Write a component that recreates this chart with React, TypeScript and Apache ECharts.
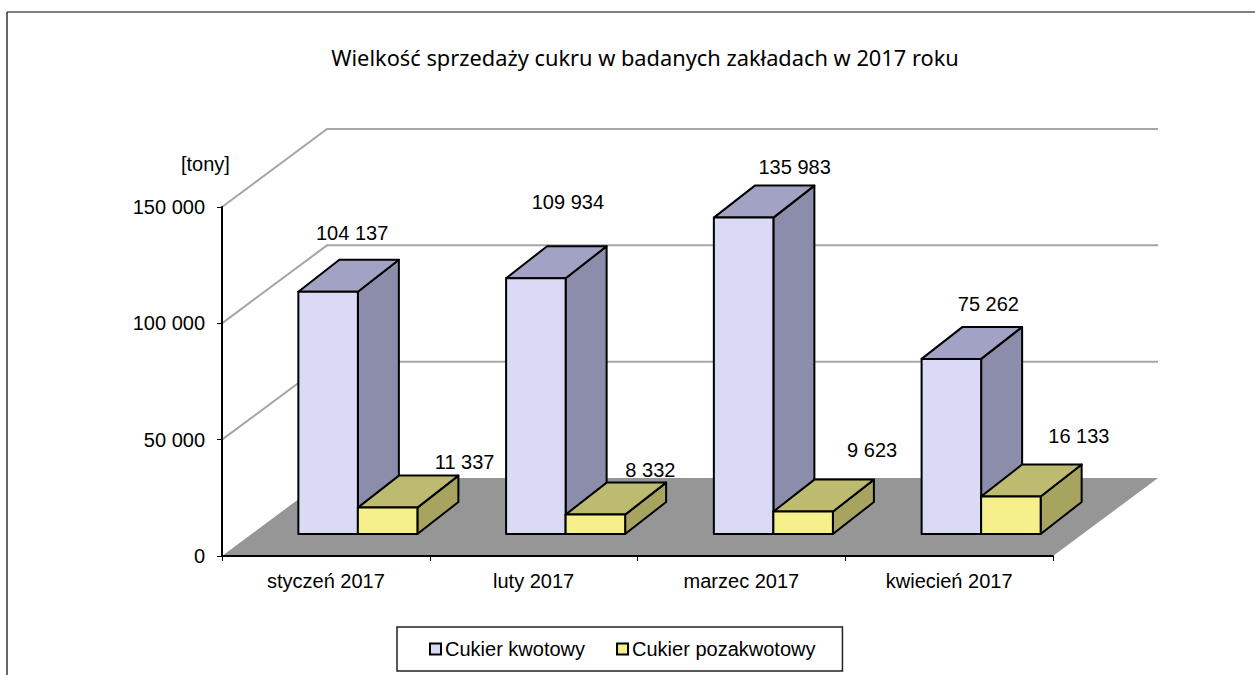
import React, { useEffect, useRef } from "react";
import * as echarts from "echarts";

const categories = ["styczeń 2017", "luty 2017", "marzec 2017", "kwiecień 2017"];
const quotaValues = [104137, 109934, 135983, 75262];
const extraValues = [11337, 8332, 9623, 16133];
const gridValues = [50000, 100000, 150000];
const quotaName = "Cukier kwotowy";
const extraName = "Cukier pozakwotowy";
const titleText = "Wielkość sprzedaży cukru w badanych zakładach w 2017 roku";
const unitText = "[tony]";

// label placement relative to each bar's top front centre
const quotaLabelOffsets = [[24, -59], [32, -76], [51, -51], [37, -55]];
const extraLabelOffsets = [[77, -46], [55, -45], [69, -62], [68, -60]];

const fmt = (v: number) => String(v).replace(/\B(?=(\d{3})+$)/g, " ");
const SANS = "'Liberation Sans', Arial, sans-serif";
const FONT_SIZE = 20;

const WALL_DX = 105;
const WALL_DY = 78;
const BAR_WIDTH = 0.2865;
const SHIFT_X = 32;
const SHIFT_Y = 22;
const DEPTH_X = 41;
const DEPTH_Y = 32;

function barRenderer(
  slot: number,
  colors: { front: string; top: string; side: string },
  offsets: number[][],
) {
  return (params: any, api: any) => {
    const idx = api.value(0);
    const val = api.value(1);
    const band = api.size([1, 0])[0];
    const w = band * BAR_WIDTH;
    const center = api.coord([idx, 0]);
    const topP = api.coord([idx, val]);
    const x0 = center[0] + SHIFT_X + (slot - 1) * w;
    const x1 = x0 + w;
    const yb = center[1] - SHIFT_Y;
    const yt = topP[1] - SHIFT_Y;
    const stroke = { stroke: "#000000", lineWidth: 2, lineJoin: "round" };
    const off = offsets[params.dataIndex];
    return {
      type: "group",
      children: [
        {
          type: "polygon",
          shape: { points: [[x1, yb], [x1 + DEPTH_X, yb - DEPTH_Y], [x1 + DEPTH_X, yt - DEPTH_Y], [x1, yt]] },
          style: { fill: colors.side, ...stroke },
        },
        {
          type: "polygon",
          shape: { points: [[x0, yt], [x0 + DEPTH_X, yt - DEPTH_Y], [x1 + DEPTH_X, yt - DEPTH_Y], [x1, yt]] },
          style: { fill: colors.top, ...stroke },
        },
        {
          type: "rect",
          shape: { x: x0, y: yt, width: w, height: yb - yt },
          style: { fill: colors.front, ...stroke },
        },
        {
          type: "text",
          x: (x0 + x1) / 2 + off[0],
          y: yt + off[1],
          style: {
            text: fmt(val),
            fill: "#000000",
            font: `${FONT_SIZE}px ${SANS}`,
            align: "center",
            verticalAlign: "middle",
          },
        },
      ],
    };
  };
}

export default function App() {
  const ref = useRef<HTMLDivElement>(null);
  useEffect(() => {
    const chart = echarts.init(ref.current!, undefined, { renderer: "svg" });
    chart.setOption({
      animation: false,
      backgroundColor: "#ffffff",
      title: {
        text: titleText,
        left: 640,
        top: 41,
        textAlign: "center",
        textStyle: { fontFamily: "'Noto Sans'", fontWeight: "normal", fontSize: 21.8, color: "#000000" },
      },
      legend: {
        left: 397,
        top: 627,
        padding: [12, 27, 12, 32],
        itemWidth: 11,
        itemHeight: 11,
        itemGap: 31,
        borderColor: "#222222",
        borderWidth: 1.5,
        backgroundColor: "#ffffff",
        textStyle: { fontFamily: SANS, fontSize: FONT_SIZE, color: "#000000", lineHeight: 20, padding: [0, 0, 0, -1] },
        data: [
          { name: quotaName, icon: "rect", itemStyle: { color: "#dadaf6", borderColor: "#000000", borderWidth: 2 } },
          { name: extraName, icon: "rect", itemStyle: { color: "#f5f08c", borderColor: "#000000", borderWidth: 2 } },
        ],
      },
      grid: { left: 222, top: 207, width: 831, height: 349, containLabel: false },
      xAxis: {
        type: "category",
        data: categories,
        z: 5,
        axisLine: { lineStyle: { color: "#000000", width: 2 } },
        axisTick: { show: true, alignWithLabel: false, length: 5, lineStyle: { color: "#000000", width: 1 } },
        axisLabel: { fontFamily: SANS, fontSize: FONT_SIZE, color: "#000000", margin: 15 },
      },
      yAxis: {
        type: "value",
        min: 0,
        max: 150000,
        interval: 50000,
        z: 5,
        splitLine: { show: false },
        axisLine: { show: true, lineStyle: { color: "#000000", width: 2 } },
        axisTick: { show: true, length: 5, lineStyle: { color: "#000000", width: 1 } },
        axisLabel: { fontFamily: SANS, fontSize: FONT_SIZE, color: "#000000", margin: 17, formatter: (v: number) => fmt(v) },
      },
      graphic: [
        { type: "line", shape: { x1: 7, y1: 12, x2: 1255, y2: 12 }, style: { stroke: "#808080", lineWidth: 2 } },
        { type: "line", shape: { x1: 7, y1: 12, x2: 7, y2: 675 }, style: { stroke: "#333333", lineWidth: 1.5 } },
        {
          type: "text",
          x: 181,
          y: 164,
          style: { text: unitText, fill: "#000000", font: `${FONT_SIZE}px ${SANS}`, verticalAlign: "middle" },
        },
      ],
      series: [
        {
          type: "custom",
          name: "walls",
          z: 1,
          silent: true,
          data: gridValues.map((v) => [v]),
          encode: { y: 0 },
          renderItem: (params: any, api: any) => {
            const y = api.coord([0, api.value(0)])[1];
            const cs = params.coordSys;
            return {
              type: "polyline",
              shape: {
                points: [
                  [cs.x, y],
                  [cs.x + WALL_DX, y - WALL_DY],
                  [cs.x + cs.width + WALL_DX, y - WALL_DY],
                ],
              },
              style: { stroke: "#a6a6a6", lineWidth: 2, fill: "none" },
            };
          },
        },
        {
          type: "custom",
          name: "floor",
          z: 1,
          silent: true,
          data: [[0]],
          encode: { y: 0 },
          renderItem: (params: any, api: any) => {
            const y = api.coord([0, api.value(0)])[1];
            const cs = params.coordSys;
            return {
              type: "polygon",
              shape: {
                points: [
                  [cs.x, y],
                  [cs.x + cs.width, y],
                  [cs.x + cs.width + WALL_DX, y - WALL_DY],
                  [cs.x + WALL_DX, y - WALL_DY],
                ],
              },
              style: { fill: "#969696" },
            };
          },
        },
        {
          type: "custom",
          name: quotaName,
          z: 3,
          data: quotaValues.map((v, i) => [i, v]),
          encode: { x: 0, y: 1 },
          itemStyle: { color: "#dadaf6" },
          renderItem: barRenderer(0, { front: "#dadaf6", top: "#a2a2c4", side: "#8c8cab" }, quotaLabelOffsets),
        },
        {
          type: "custom",
          name: extraName,
          z: 4,
          data: extraValues.map((v, i) => [i, v]),
          encode: { x: 0, y: 1 },
          itemStyle: { color: "#f5f08c" },
          renderItem: barRenderer(1, { front: "#f5f08c", top: "#bdbb70", side: "#a6a45f" }, extraLabelOffsets),
        },
      ],
    });
    return () => chart.dispose();
  }, []);
  return <div ref={ref} style={{ position: "fixed", left: 0, top: 0, width: 1255, height: 675 }} />;
}
